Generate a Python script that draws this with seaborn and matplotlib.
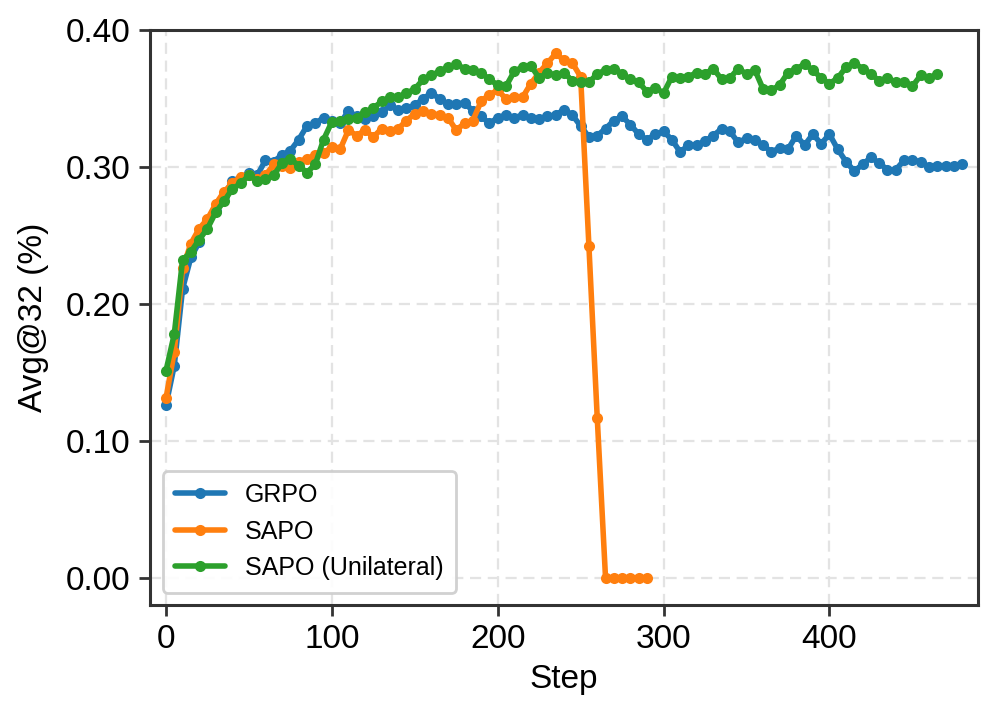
import numpy as np
import pandas as pd
import matplotlib
matplotlib.use("Agg")
import matplotlib.pyplot as plt
import seaborn as sns

series_names = ["GRPO", "SAPO", "SAPO (Unilateral)"]

grpo_steps = list(range(0, 485, 5))
grpo_vals = [
    0.126, 0.155, 0.211, 0.234, 0.245, 0.261, 0.268, 0.279, 0.290, 0.292,
    0.296, 0.294, 0.305, 0.304, 0.309, 0.312, 0.320, 0.330, 0.332, 0.336,
    0.334, 0.332, 0.341, 0.337, 0.335, 0.337, 0.340, 0.345, 0.342, 0.343,
    0.345, 0.350, 0.354, 0.350, 0.346, 0.346, 0.347, 0.341, 0.337, 0.332,
    0.336, 0.338, 0.336, 0.338, 0.336, 0.335, 0.337, 0.338, 0.342, 0.338,
    0.330, 0.322, 0.323, 0.328, 0.334, 0.337, 0.331, 0.324, 0.320, 0.324,
    0.326, 0.320, 0.311, 0.316, 0.316, 0.319, 0.323, 0.328, 0.326, 0.318,
    0.321, 0.320, 0.316, 0.311, 0.314, 0.313, 0.323, 0.316, 0.324, 0.317,
    0.324, 0.313, 0.304, 0.297, 0.302, 0.307, 0.303, 0.298, 0.298, 0.305,
    0.305, 0.304, 0.300, 0.301, 0.301, 0.301, 0.302,
]

sapo_steps = list(range(0, 295, 5))
sapo_vals = [
    0.131, 0.165, 0.226, 0.244, 0.255, 0.262, 0.273, 0.282, 0.288, 0.293,
    0.294, 0.291, 0.294, 0.302, 0.301, 0.299, 0.304, 0.306, 0.309, 0.310,
    0.315, 0.313, 0.327, 0.323, 0.327, 0.322, 0.328, 0.326, 0.328, 0.334,
    0.339, 0.341, 0.339, 0.338, 0.336, 0.327, 0.332, 0.334, 0.348, 0.353,
    0.356, 0.350, 0.351, 0.351, 0.361, 0.369, 0.376, 0.383, 0.378, 0.376,
    0.366, 0.242, 0.117, 0.0, 0.0, 0.0, 0.0, 0.0, 0.0,
]

unil_steps = list(range(0, 470, 5))
unil_vals = [
    0.151, 0.178, 0.232, 0.238, 0.247, 0.255, 0.267, 0.275, 0.284, 0.288,
    0.294, 0.290, 0.291, 0.294, 0.303, 0.306, 0.301, 0.296, 0.302, 0.320,
    0.333, 0.334, 0.335, 0.336, 0.340, 0.343, 0.348, 0.351, 0.351, 0.354,
    0.357, 0.364, 0.367, 0.370, 0.373, 0.375, 0.372, 0.371, 0.369, 0.364,
    0.360, 0.359, 0.370, 0.373, 0.374, 0.365, 0.369, 0.367, 0.369, 0.363,
    0.362, 0.362, 0.368, 0.371, 0.372, 0.368, 0.364, 0.362, 0.355, 0.358,
    0.354, 0.366, 0.365, 0.366, 0.369, 0.368, 0.372, 0.364, 0.365, 0.372,
    0.368, 0.371, 0.357, 0.356, 0.360, 0.369, 0.372, 0.375, 0.371, 0.365,
    0.361, 0.365, 0.373, 0.376, 0.372, 0.368, 0.363, 0.365, 0.362, 0.362,
    0.359, 0.367, 0.365, 0.368,
]

x_ticks = [0, 100, 200, 300, 400]
y_ticks = [0.00, 0.10, 0.20, 0.30, 0.40]

frames = []
for name, st, vals in zip(series_names,
                          [grpo_steps, sapo_steps, unil_steps],
                          [grpo_vals, sapo_vals, unil_vals]):
    frames.append(pd.DataFrame({"Step": st, "Avg@32 (%)": vals, "Method": name}))
df = pd.concat(frames, ignore_index=True)

sns.set_theme(style="ticks")
plt.rcParams["font.family"] = ["Liberation Sans", "DejaVu Sans"]
plt.rcParams["text.color"] = "black"
plt.rcParams["axes.labelcolor"] = "black"
plt.rcParams["xtick.color"] = "#333333"
plt.rcParams["ytick.color"] = "#333333"
plt.rcParams["xtick.labelcolor"] = "black"
plt.rcParams["ytick.labelcolor"] = "black"

fig = plt.figure(figsize=(4.985, 3.595), dpi=200)
ax = fig.add_axes([0.1505, 0.1585, 0.8305, 0.7995])

palette = ["#1f77b4", "#ff7f0e", "#2ca02c"]
sns.lineplot(data=df, x="Step", y="Avg@32 (%)", hue="Method",
             hue_order=series_names, palette=palette, marker="o",
             markersize=4.0, markeredgewidth=0, linewidth=2.0,
             ax=ax, sort=False, errorbar=None)

ax.set_xlim(-9.6, 489.6)
ax.set_ylim(-0.02, 0.40)
ax.set_xticks(x_ticks)
ax.set_yticks(y_ticks)
ax.set_yticklabels([f"{v:.2f}" for v in y_ticks])
ax.tick_params(axis="both", labelsize=12, direction="out", length=4,
               width=1.0, pad=3)
ax.set_xlabel("Step", fontsize=12, labelpad=3, color="black")
ax.set_ylabel("Avg@32 (%)", fontsize=12, labelpad=6, color="black")
ax.grid(True, linestyle=(0, (5, 3)), linewidth=0.8, color="#e3e3e3")
for sp in ax.spines.values():
    sp.set_visible(True)
    sp.set_color("#333333")
    sp.set_linewidth(1.1)

handles, labels = ax.get_legend_handles_labels()
leg = ax.legend(handles, labels, loc="lower left", fontsize=9, frameon=True,
                fancybox=True, edgecolor="#cccccc", framealpha=0.9,
                borderpad=0.5, labelspacing=0.5, handlelength=2.0)
for t in leg.get_texts():
    t.set_color("black")

fig.savefig("out.png", dpi=200)
